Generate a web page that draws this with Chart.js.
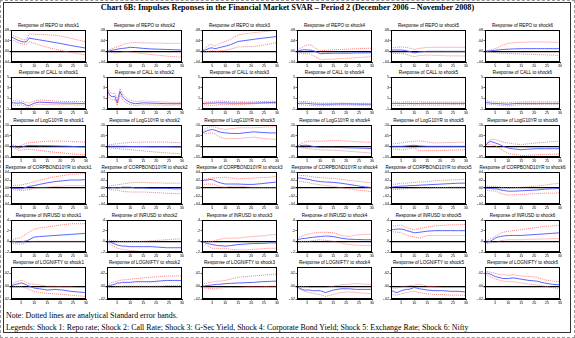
<!DOCTYPE html>
<html><head><meta charset="utf-8">
<script src="https://cdn.jsdelivr.net/npm/chart.js@4.4.1/dist/chart.umd.min.js"></script>
<style>
html,body{margin:0;padding:0;background:#fff;}
#page{position:relative;width:575px;height:338px;overflow:hidden;background:#fff;}
#outer{position:absolute;left:0;top:0;width:573px;height:336px;border:1px dashed #9a9a9a;}
#inner{position:absolute;left:3px;top:2px;width:566px;height:329px;border:1px solid #333;}
#title{position:absolute;left:0;top:3px;width:575px;text-align:center;font:bold 8.2px "Liberation Serif";color:#000;white-space:nowrap;}
.note{position:absolute;left:6px;font:7.9px "Liberation Serif";color:#000;white-space:nowrap;}
.ptitle{position:absolute;width:95px;text-align:center;font:4.6px "Liberation Sans";color:#000;white-space:nowrap;}
canvas{position:absolute;}
</style></head>
<body><div id="page">
<div id="outer"></div><div id="inner"></div>
<div id="title">Chart 6B: Impulses Reponses in the Financial Market SVAR – Period 2 (December 2006 – November 2008)</div>
<div class="note" style="top:311px">Note: Dotted lines are analytical Standard error bands.</div>
<div class="note" style="top:323px">Legends: Shock 1: Repo rate; Shock 2: Call Rate; Shock 3: G-Sec Yield, Shock 4: Corporate Bond Yield; Shock 5: Exchange Rate; Shock 6: Nifty</div>
</div>
<script>
const periods=[1,2,3,4,5,6,7,8,10,12,15,18,21,24,27,30];
const variables=['REPO','CALL','LogG10YR','CORPBOND10YR','INRUSD','LOGNIFTY'];
const shocks=['shock1','shock2','shock3','shock4','shock5','shock6'];
const xTicks=[5,10,15,20,25,30];

const yTicks_REPO=[-0.04,0,0.04,0.08];
const yTicks_CALL=[-1,0,1,2,3,4,5];
const yTicks_LogG10YR=[-0.05,0,0.05,0.10];
const yTicks_CORPBOND10YR=[-0.04,-0.02,0,0.02,0.04];
const yTicks_INRUSD=[-0.2,-0.1,0,0.1,0.2,0.3,0.4];
const yTicks_LOGNIFTY=[-0.02,-0.01,0,0.01,0.02,0.03];

const resp_REPO=[
[0.054,0.050,0.045,0.040,0.037,0.035,0.036,0.050,0.046,0.043,0.038,0.033,0.028,0.022,0.017,0.012],
[0,0.002,0.004,0.006,0.008,0.010,0.011,0.012,0.015,0.014,0.011,0.009,0.008,0.007,0.006,0.005],
[0,0.004,0.008,0.012,0.013,0.010,0.012,0.015,0.019,0.025,0.037,0.041,0.045,0.049,0.052,0.056],
[0,0.003,0.005,0.006,0.005,0.005,0.003,0,-0.009,-0.008,-0.007,-0.007,-0.007,-0.006,-0.006,-0.005],
[0.005,0.005,0.005,0.005,0.005,0.004,0.002,0,-0.006,-0.002,0,0,0,0,0,0],
[0,0.001,0.002,0.003,0.004,0.005,0.006,0.007,0.008,0.009,0.010,0.010,0.010,0.010,0.010,0.010]];
const upper_REPO=[
[0.060,0.058,0.054,0.050,0.046,0.043,0.045,0.065,0.064,0.063,0.062,0.060,0.056,0.049,0.042,0.036],
[0,0.006,0.010,0.014,0.017,0.021,0.025,0.028,0.032,0.033,0.032,0.031,0.031,0.030,0.030,0.030],
[0,0.010,0.018,0.025,0.024,0.020,0.024,0.030,0.037,0.045,0.062,0.066,0.070,0.073,0.076,0.080],
[0.005,0.010,0.016,0.021,0.024,0.025,0.020,0.012,0.002,0.004,0.006,0.007,0.008,0.010,0.011,0.012],
[0.012,0.014,0.015,0.016,0.016,0.016,0.015,0.012,0.007,0.011,0.015,0.015,0.015,0.015,0.015,0.015],
[0,0.003,0.006,0.008,0.010,0.014,0.019,0.024,0.030,0.032,0.034,0.035,0.035,0.035,0.034,0.034]];
const lower_REPO=[
[0.045,0.041,0.036,0.031,0.028,0.027,0.027,0.036,0.030,0.024,0.015,0.008,0.002,-0.004,-0.009,-0.014],
[0,-0.003,-0.005,-0.007,-0.006,-0.004,-0.002,0,-0.002,-0.005,-0.009,-0.012,-0.015,-0.018,-0.020,-0.022],
[0,-0.002,-0.001,0.001,0.002,0.001,0,0.002,0.004,0.008,0.017,0.017,0.018,0.022,0.027,0.033],
[-0.005,-0.006,-0.007,-0.008,-0.008,-0.010,-0.015,-0.020,-0.031,-0.030,-0.029,-0.027,-0.026,-0.024,-0.022,-0.020],
[-0.007,-0.007,-0.008,-0.008,-0.008,-0.009,-0.012,-0.015,-0.020,-0.016,-0.014,-0.015,-0.016,-0.017,-0.017,-0.018],
[0,-0.002,-0.003,-0.004,-0.005,-0.006,-0.007,-0.007,-0.008,-0.009,-0.010,-0.011,-0.012,-0.013,-0.014,-0.015]];

const resp_CALL=[
[0.2,0.15,0.1,0.1,0.15,0.0,-0.3,-0.4,0.1,0.3,0.2,0.15,0.1,0.1,0.05,0.05],
[2.6,1.6,1.3,1.4,0.1,2.3,1.3,0.8,0.2,0.0,0.15,0.1,0.05,0.0,0.0,0.0],
[0.0,0.05,0.1,0.1,0.1,0.12,0.15,0.15,0.15,0.1,0.1,0.1,0.1,0.15,0.2,0.2],
[0.0,0.05,0.1,0.08,0.05,0.0,-0.05,-0.08,-0.1,-0.1,-0.08,-0.05,-0.05,-0.08,-0.1,-0.1],
[0.05,0.05,0.05,0.0,0.0,0.05,0.05,0.05,0.0,0.05,0.05,0.05,0.05,0.05,0.05,0.05],
[0.1,0.2,0.1,0.05,0.05,0.0,0.0,-0.05,-0.1,0.0,0.05,0.05,0.05,0.05,0.05,0.05]];
const upper_CALL=[
[0.6,0.55,0.5,0.5,0.5,0.4,0.2,0.1,0.5,0.7,0.6,0.5,0.4,0.4,0.4,0.4],
[3.2,2.2,1.9,2.0,0.6,2.8,1.9,1.3,0.6,0.4,0.5,0.45,0.35,0.3,0.25,0.25],
[0.3,0.3,0.3,0.35,0.35,0.4,0.45,0.5,0.45,0.4,0.35,0.3,0.35,0.4,0.45,0.4],
[0.3,0.35,0.4,0.4,0.35,0.3,0.25,0.2,0.1,0.1,0.1,0.1,0.05,0.05,0.05,0.05],
[0.3,0.35,0.3,0.25,0.2,0.3,0.35,0.35,0.3,0.35,0.3,0.3,0.3,0.3,0.3,0.3],
[0.4,0.5,0.4,0.3,0.3,0.3,0.3,0.25,0.2,0.3,0.3,0.35,0.35,0.35,0.35,0.35]];
const lower_CALL=[
[-0.2,-0.25,-0.3,-0.3,-0.2,-0.4,-0.7,-0.8,-0.3,-0.1,-0.2,-0.2,-0.2,-0.2,-0.25,-0.25],
[1.9,1.0,0.7,0.8,-0.3,1.7,0.8,0.3,-0.2,-0.35,-0.2,-0.25,-0.25,-0.3,-0.25,-0.25],
[-0.2,-0.2,-0.25,-0.3,-0.3,-0.3,-0.25,-0.15,-0.1,-0.15,-0.2,-0.1,0.0,0.05,0.05,0.05],
[-0.3,-0.25,-0.2,-0.25,-0.3,-0.3,-0.35,-0.4,-0.4,-0.35,-0.3,-0.25,-0.25,-0.3,-0.3,-0.3],
[-0.2,-0.25,-0.3,-0.35,-0.4,-0.3,-0.25,-0.2,-0.3,-0.2,-0.25,-0.25,-0.25,-0.2,-0.2,-0.2],
[-0.2,-0.1,-0.15,-0.2,-0.2,-0.25,-0.3,-0.35,-0.45,-0.3,-0.2,-0.15,-0.15,-0.1,-0.1,-0.1]];

const resp_LogG10YR=[
[0.002,0.0,-0.004,-0.008,-0.004,0.0,0.003,0.004,0.004,0.003,0.003,0.002,0.001,0.0,-0.002,-0.003],
[0,0,0,0,0,0,0,0,-0.001,-0.001,-0.001,-0.002,-0.002,-0.002,-0.003,-0.003],
[0.063,0.068,0.073,0.077,0.079,0.076,0.071,0.067,0.063,0.061,0.060,0.064,0.068,0.065,0.063,0.063],
[0,0.002,0.004,0.005,0.005,0.003,0.0,-0.002,-0.005,-0.005,-0.005,-0.006,-0.007,-0.008,-0.009,-0.011],
[0,0,0,0,0,0.001,0.002,0.003,0.005,0.002,0.0,0.0,0.0,0.0,0.0,0.0],
[0,0.015,0.024,0.020,0.016,0.012,0.006,0.0,-0.008,-0.012,-0.016,-0.013,-0.011,-0.011,-0.011,-0.011]];
const upper_LogG10YR=[
[0.008,0.006,0.003,0.0,0.005,0.010,0.015,0.017,0.019,0.021,0.024,0.024,0.024,0.023,0.021,0.020],
[0.005,0.007,0.009,0.011,0.012,0.014,0.015,0.016,0.018,0.019,0.020,0.020,0.020,0.020,0.018,0.017],
[0.071,0.079,0.086,0.091,0.092,0.090,0.087,0.083,0.079,0.082,0.087,0.087,0.087,0.089,0.091,0.092],
[0,0.008,0.015,0.020,0.024,0.024,0.024,0.024,0.024,0.025,0.027,0.026,0.024,0.022,0.020,0.019],
[0.011,0.012,0.013,0.015,0.016,0.018,0.020,0.022,0.024,0.025,0.021,0.016,0.017,0.018,0.019,0.020],
[0,0.020,0.032,0.033,0.032,0.028,0.024,0.020,0.016,0.012,0.008,0.012,0.016,0.019,0.022,0.024]];
const lower_LogG10YR=[
[-0.003,-0.007,-0.012,-0.019,-0.017,-0.015,-0.014,-0.014,-0.016,-0.019,-0.024,-0.028,-0.031,-0.035,-0.038,-0.040],
[-0.005,-0.007,-0.008,-0.010,-0.011,-0.012,-0.013,-0.014,-0.015,-0.018,-0.021,-0.025,-0.028,-0.031,-0.033,-0.035],
[0.058,0.059,0.060,0.062,0.063,0.058,0.050,0.043,0.036,0.036,0.036,0.040,0.043,0.038,0.034,0.032],
[0,-0.004,-0.007,-0.009,-0.011,-0.012,-0.013,-0.014,-0.016,-0.017,-0.018,-0.020,-0.023,-0.026,-0.029,-0.032],
[-0.011,-0.012,-0.013,-0.015,-0.016,-0.015,-0.013,-0.011,-0.008,-0.020,-0.020,-0.020,-0.019,-0.018,-0.017,-0.016],
[0,0.008,0.011,0.007,0.003,-0.004,-0.012,-0.020,-0.032,-0.038,-0.043,-0.042,-0.040,-0.038,-0.037,-0.036]];

const resp_CORPBOND10YR=[
[0,-0.001,-0.001,-0.002,-0.002,0.0,0.002,0.004,0.006,0.009,0.013,0.016,0.018,0.020,0.020,0.021],
[0,0,0.001,0.001,0,0.001,0.002,0.002,0.002,0.0,0.0,-0.001,-0.001,-0.001,-0.002,-0.002],
[0.019,0.019,0.020,0.021,0.021,0.018,0.015,0.013,0.010,0.010,0.010,0.009,0.009,0.011,0.013,0.015],
[0.025,0.025,0.024,0.023,0.022,0.021,0.019,0.018,0.016,0.015,0.014,0.012,0.009,0.006,0.003,0.001],
[0.002,0.003,0.004,0.004,0.005,0.005,0.005,0.006,0.006,0.007,0.008,0.009,0.010,0.011,0.012,0.012],
[0,-0.001,-0.001,-0.002,-0.002,-0.003,-0.005,-0.006,-0.008,-0.008,-0.007,-0.006,-0.005,-0.003,-0.002,-0.001]];
const upper_CORPBOND10YR=[
[0.006,0.006,0.007,0.007,0.008,0.009,0.011,0.012,0.016,0.019,0.024,0.028,0.031,0.034,0.035,0.036],
[0.004,0.005,0.006,0.007,0.008,0.009,0.010,0.011,0.013,0.014,0.014,0.013,0.013,0.012,0.012,0.012],
[0.021,0.022,0.023,0.024,0.025,0.025,0.026,0.026,0.027,0.025,0.023,0.024,0.025,0.026,0.027,0.029],
[0.032,0.032,0.031,0.031,0.030,0.029,0.028,0.027,0.026,0.025,0.024,0.022,0.019,0.017,0.015,0.013],
[0.008,0.009,0.010,0.011,0.012,0.012,0.012,0.013,0.014,0.015,0.016,0.018,0.019,0.020,0.021,0.022],
[0.005,0.005,0.004,0.004,0.004,0.003,0.002,0.001,0.0,0.001,0.002,0.003,0.005,0.007,0.010,0.012]];
const lower_CORPBOND10YR=[
[-0.003,-0.004,-0.005,-0.006,-0.006,-0.006,-0.005,-0.004,0.0,0.001,0.002,0.004,0.005,0.006,0.006,0.006],
[-0.003,-0.004,-0.005,-0.005,-0.006,-0.007,-0.008,-0.009,-0.010,-0.010,-0.010,-0.011,-0.012,-0.013,-0.014,-0.014],
[0.009,0.009,0.010,0.010,0.010,0.008,0.005,0.003,0.002,0.004,0.005,0.003,0.001,0.001,0.001,0.001],
[0.018,0.017,0.016,0.015,0.014,0.013,0.011,0.010,0.008,0.006,0.004,0.001,-0.002,-0.005,-0.007,-0.009],
[-0.004,-0.004,-0.004,-0.003,-0.003,-0.002,-0.002,-0.001,-0.001,0.0,0.0,0.001,0.001,0.002,0.002,0.002],
[-0.005,-0.006,-0.007,-0.007,-0.008,-0.010,-0.013,-0.015,-0.018,-0.017,-0.016,-0.015,-0.014,-0.013,-0.013,-0.012]];

const resp_INRUSD=[
[0,0,-0.01,-0.01,-0.01,0.0,0.01,0.03,0.08,0.09,0.10,0.11,0.12,0.13,0.14,0.15],
[0,-0.01,-0.03,-0.05,-0.07,-0.08,-0.09,-0.09,-0.10,-0.10,-0.10,-0.10,-0.11,-0.12,-0.12,-0.12],
[0,-0.02,-0.04,-0.05,-0.06,-0.07,-0.08,-0.08,-0.09,-0.08,-0.06,-0.05,-0.04,-0.04,-0.03,-0.03],
[0.03,0.04,0.05,0.055,0.06,0.07,0.075,0.08,0.09,0.10,0.09,0.06,0.04,0.035,0.03,0.03],
[0.22,0.22,0.23,0.23,0.23,0.22,0.20,0.19,0.16,0.17,0.19,0.20,0.20,0.20,0.20,0.20],
[-0.03,-0.01,0.0,0.03,0.06,0.08,0.09,0.10,0.11,0.11,0.11,0.12,0.13,0.14,0.15,0.16]];
const upper_INRUSD=[
[0.04,0.04,0.05,0.06,0.08,0.11,0.14,0.17,0.23,0.25,0.27,0.29,0.31,0.33,0.33,0.33],
[0.03,0.02,0.01,0.01,0.0,0.0,0.0,0.0,0.0,0.0,0.0,0.01,0.02,0.03,0.04,0.05],
[0,0.0,0.0,0.0,0.0,0.01,0.03,0.04,0.06,0.06,0.06,0.08,0.09,0.10,0.12,0.13],
[0.06,0.08,0.10,0.12,0.13,0.14,0.15,0.16,0.17,0.17,0.16,0.11,0.09,0.12,0.13,0.13],
[0.28,0.29,0.29,0.30,0.30,0.28,0.26,0.24,0.22,0.24,0.27,0.29,0.30,0.31,0.31,0.32],
[-0.02,0.02,0.04,0.07,0.09,0.12,0.15,0.17,0.19,0.20,0.22,0.24,0.26,0.28,0.29,0.30]];
const lower_INRUSD=[
[-0.03,-0.04,-0.05,-0.05,-0.05,-0.04,-0.02,-0.01,0.0,0.0,0.0,0.0,0.0,0.0,0.0,0.0],
[-0.03,-0.05,-0.08,-0.10,-0.13,-0.14,-0.15,-0.16,-0.17,-0.18,-0.20,-0.21,-0.21,-0.21,-0.21,-0.21],
[0,-0.04,-0.08,-0.11,-0.13,-0.13,-0.13,-0.13,-0.13,-0.15,-0.16,-0.16,-0.15,-0.14,-0.13,-0.13],
[0.0,0.0,0.0,0.0,0.0,0.0,0.01,0.02,0.03,0.02,0.0,-0.03,-0.06,-0.07,-0.08,-0.08],
[0.19,0.18,0.17,0.17,0.16,0.14,0.12,0.10,0.08,0.06,0.11,0.11,0.11,0.11,0.11,0.11],
[-0.04,-0.04,-0.03,-0.02,-0.02,-0.01,0.01,0.02,0.03,0.03,0.03,0.04,0.04,0.045,0.05,0.05]];

const resp_LOGNIFTY=[
[0.001,0.002,0.003,0.004,0.005,0.004,0.002,0.0,-0.003,-0.004,-0.006,-0.005,-0.006,-0.008,-0.009,-0.010],
[0,0.001,0.002,0.003,0.005,0.005,0.006,0.006,0.006,0.007,0.007,0.007,0.008,0.009,0.009,0.009],
[0,0.0005,0.001,0.0015,0.002,0.0025,0.003,0.003,0.004,0.0045,0.005,0.0055,0.006,0.007,0.0075,0.008],
[0,-0.003,-0.005,-0.006,-0.006,-0.006,-0.007,-0.007,-0.007,-0.010,-0.006,-0.004,-0.004,-0.005,-0.005,-0.005],
[-0.007,-0.008,-0.010,-0.009,-0.007,-0.006,-0.005,-0.005,-0.002,-0.004,-0.006,-0.007,-0.007,-0.008,-0.008,-0.009],
[0.021,0.020,0.019,0.017,0.015,0.014,0.013,0.012,0.012,0.013,0.011,0.009,0.008,0.005,0.003,0.002]];
const upper_LOGNIFTY=[
[0.0035,0.005,0.007,0.008,0.009,0.008,0.006,0.004,0.003,0.002,0.0,0.0,-0.001,-0.001,-0.002,-0.002],
[0.003,0.004,0.006,0.007,0.008,0.009,0.010,0.010,0.011,0.012,0.013,0.014,0.015,0.016,0.016,0.016],
[0.003,0.004,0.005,0.006,0.007,0.007,0.008,0.008,0.009,0.011,0.014,0.015,0.016,0.017,0.018,0.019],
[0,0,-0.001,-0.001,-0.001,-0.002,-0.002,-0.002,-0.002,-0.002,0.0,0.002,0.003,0.004,0.003,0.003],
[-0.004,-0.003,-0.003,-0.002,-0.001,0.0,0.0,0.001,0.0015,0.003,0.0,-0.001,-0.002,-0.002,-0.002,-0.002],
[0.024,0.023,0.022,0.021,0.020,0.019,0.018,0.018,0.017,0.018,0.016,0.015,0.014,0.010,0.008,0.007]];
const lower_LOGNIFTY=[
[0.0,-0.001,-0.001,-0.001,-0.001,-0.002,-0.003,-0.005,-0.008,-0.010,-0.011,-0.012,-0.013,-0.014,-0.015,-0.016],
[-0.002,-0.002,-0.002,-0.001,-0.001,-0.001,0.0,0.0,0.0,0.0,0.0,0.0,0.0,0.001,0.001,0.001],
[-0.002,-0.003,-0.003,-0.004,-0.004,-0.004,-0.003,-0.003,-0.002,-0.002,-0.002,-0.001,-0.001,-0.001,0.0,0.0],
[-0.001,-0.004,-0.007,-0.008,-0.009,-0.010,-0.011,-0.012,-0.013,-0.016,-0.013,-0.010,-0.009,-0.010,-0.011,-0.012],
[-0.012,-0.013,-0.014,-0.013,-0.012,-0.011,-0.010,-0.009,-0.008,-0.010,-0.012,-0.013,-0.013,-0.014,-0.014,-0.014],
[0.019,0.017,0.015,0.013,0.011,0.010,0.009,0.008,0.007,0.007,0.005,0.003,0.002,0.0,-0.002,-0.004]];

const seriesByVar={
 REPO:{r:resp_REPO,u:upper_REPO,l:lower_REPO,t:yTicks_REPO,d:2},
 CALL:{r:resp_CALL,u:upper_CALL,l:lower_CALL,t:yTicks_CALL,d:0},
 LogG10YR:{r:resp_LogG10YR,u:upper_LogG10YR,l:lower_LogG10YR,t:yTicks_LogG10YR,d:2},
 CORPBOND10YR:{r:resp_CORPBOND10YR,u:upper_CORPBOND10YR,l:lower_CORPBOND10YR,t:yTicks_CORPBOND10YR,d:2},
 INRUSD:{r:resp_INRUSD,u:upper_INRUSD,l:lower_INRUSD,t:yTicks_INRUSD,d:1},
 LOGNIFTY:{r:resp_LOGNIFTY,u:upper_LOGNIFTY,l:lower_LOGNIFTY,t:yTicks_LOGNIFTY,d:2}
};

// layout (pixels)
const colLeft=[11,107,202,297,391,485];
const rowTop=[30,77,125,172,220,267];
const BW=75,BH=32,YW=13,XH=7,TP=3,RP=4;

const fmt=(v,d)=>{ if(Math.abs(v)<1e-9) return d===0?'0':'.'+'0'.repeat(d);
  return (v<0?'-':'')+Math.abs(v).toFixed(d).replace(/^0/,''); };
const xy=a=>a.map((y,i)=>({x:periods[i],y:y}));

const boxPlugin={id:'box',afterDraw(c){const a=c.chartArea,g=c.ctx;g.save();g.strokeStyle='#000';g.lineWidth=1;
  g.strokeRect(Math.round(a.left)+0.5,Math.round(a.top)+0.5,Math.round(a.right-a.left)-1,Math.round(a.bottom-a.top)-1);g.restore();}};

Chart.defaults.font.family='Liberation Sans';
const page=document.getElementById('page');
variables.forEach((v,ri)=>{
  const S=seriesByVar[v];
  shocks.forEach((s,ci)=>{
    const t=document.createElement('div');t.className='ptitle';
    t.style.left=(colLeft[ci]+BW/2-47.5)+'px';t.style.top=(rowTop[ri]-7)+'px';
    t.textContent='Response of '+v+' to '+s;page.appendChild(t);
    const cv=document.createElement('canvas');
    const W=YW+BW+RP,H=TP+BH+XH;
    cv.width=W;cv.height=H;cv.style.width=W+'px';cv.style.height=H+'px';
    cv.style.left=(colLeft[ci]-YW)+'px';cv.style.top=(rowTop[ri]-TP)+'px';
    page.appendChild(cv);
    const tk=S.t;
    new Chart(cv,{type:'line',
      data:{datasets:[
        {data:xy(S.u[ci]),borderColor:'#ff5c5c',borderWidth:0.8,borderDash:[1,1],pointRadius:0,tension:0},
        {data:xy(S.l[ci]),borderColor:'#ff5c5c',borderWidth:0.8,borderDash:[1,1],pointRadius:0,tension:0},
        {data:xy(S.r[ci]),borderColor:'#4a52ff',borderWidth:0.9,pointRadius:0,tension:0}
      ]},
      options:{responsive:false,animation:false,events:[],devicePixelRatio:1,
        layout:{padding:{left:0,right:RP,top:TP,bottom:0}},
        plugins:{legend:{display:false},tooltip:{enabled:false},title:{display:false}},
        scales:{
          x:{type:'linear',min:1,max:30,
            afterBuildTicks:sc=>{sc.ticks=xTicks.map(x=>({value:x}));},
            afterFit:sc=>{sc.height=XH;},
            ticks:{font:{size:3.6},color:'#000',padding:0.5,maxRotation:0,autoSkip:false},
            grid:{drawOnChartArea:false,tickLength:1.5,tickColor:'#000',lineWidth:0.6},
            border:{color:'#000',width:1}},
          y:{min:tk[0],max:tk[tk.length-1],
            afterBuildTicks:sc=>{sc.ticks=tk.map(x=>({value:x}));},
            afterFit:sc=>{sc.width=YW;},
            ticks:{font:{size:3.6},color:'#000',padding:0.5,callback:val=>fmt(val,S.d)},
            grid:{color:c=>(c.tick&&Math.abs(c.tick.value)<1e-9)?'#000':'rgba(0,0,0,0)',
                  lineWidth:c=>(c.tick&&Math.abs(c.tick.value)<1e-9)?1.2:0.6,
                  tickColor:'#000',tickLength:1.5},
            border:{color:'#000',width:1}}
        }},
      plugins:[boxPlugin]});
  });
});
</script>
</body></html>
